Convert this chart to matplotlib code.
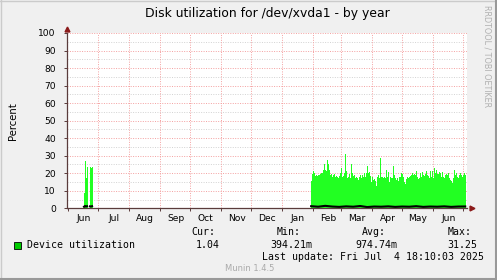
import datetime as dt
import numpy as np
import matplotlib
matplotlib.use('Agg')
from matplotlib import pyplot as plt
from matplotlib.patches import Rectangle
from matplotlib.lines import Line2D

# ---- data ----
start1 = dt.datetime(2024, 6, 17)
max1 = [8.5, 27.0, 17.5, 23.7, np.nan, np.nan, 23.3, 23.0, 23.3]
avg1 = [0.9, 1.3, 1.0, 1.2, np.nan, np.nan, 1.1, 1.0, 1.2]

start2 = dt.datetime(2025, 1, 30)
max2 = [15.5, 19.5, 21, 20, 18.5, 19, 18.5, 19, 19, 19.5, 20, 20, 22, 25.5, 22, 21,
        27.5, 25, 22, 19, 19.5, 18, 19, 19.5, 18, 18.5, 17.8, 17.3, 18.5, 20, 23, 18,
        18.5, 20, 31.25, 21, 17.3,
        18, 19.5, 17, 25.5, 20, 18.5, 19, 17, 18, 17.5, 16, 18, 19, 17, 19, 18,
        20, 18, 20, 24, 20, 20.5, 18.5, 15, 18, 16, 16.5, 15.5, 13, 18, 19, 17,
        28.5, 18, 18, 17, 18, 17, 22, 18,
        20.5, 15, 18, 17.5, 17, 24, 19, 17.5, 16, 17, 15.5, 18, 18, 20, 19.5, 18,
        15, 14, 16.5, 18, 17, 18, 18.5, 19, 20, 19, 19.5, 19, 21.5, 18, 16.5, 17.5,
        20, 18, 20.5, 19, 18.5, 19.5, 21, 19,
        18.5, 17, 21, 18, 21.5, 17.5, 23, 20, 22, 19.5, 19.5, 20.5, 20, 18, 20.5, 18,
        17.5, 19, 19.5, 19, 20, 17.5, 16, 15.5, 14.5, 17.5, 22, 19, 20, 18, 17, 19,
        20, 19, 18, 19, 20, 19]
avg2_week = [1.2, 0.9, 1.4, 1.0, 0.8, 1.1, 0.9, 1.3, 0.7, 1.0, 0.9, 1.1, 0.8, 1.0,
             0.9, 1.2, 0.8, 1.0, 0.9, 1.1, 0.8, 1.0, 1.04]

month_labels = ['Jun', 'Jul', 'Aug', 'Sep', 'Oct', 'Nov', 'Dec', 'Jan', 'Feb',
                'Mar', 'Apr', 'May', 'Jun']
month_starts = [dt.datetime(2024, 6, 1), dt.datetime(2024, 7, 1), dt.datetime(2024, 8, 1),
                dt.datetime(2024, 9, 1), dt.datetime(2024, 10, 1), dt.datetime(2024, 11, 1),
                dt.datetime(2024, 12, 1), dt.datetime(2025, 1, 1), dt.datetime(2025, 2, 1),
                dt.datetime(2025, 3, 1), dt.datetime(2025, 4, 1), dt.datetime(2025, 5, 1),
                dt.datetime(2025, 6, 1), dt.datetime(2025, 7, 1)]

x_start = dt.datetime(2024, 5, 31)
x_end = dt.datetime(2025, 7, 4, 18, 10)

W, H = 497, 280
fig = plt.figure(figsize=(W / 100, H / 100), dpi=100, facecolor='#f0f0f0')
ax = fig.add_axes([67 / W, 1 - 208.3 / H, 400 / W, 175.3 / H])
ax.set_facecolor('white')

d1 = [start1 + dt.timedelta(days=i) for i in range(len(max1))]
d2 = [start2 + dt.timedelta(days=i) for i in range(len(max2))]
dw = [start2 + dt.timedelta(days=7 * i) for i in range(len(avg2_week))]

# grid
for v in range(5, 100, 10):
    ax.axhline(v, color='#d2d2d2', lw=0.7, ls=(0, (1, 1.5)), zorder=1)
for v in range(10, 101, 10):
    ax.axhline(v, color='#f4a0a0', lw=0.7, ls=(0, (1, 1.5)), zorder=1)
for m in month_starts[1:]:
    ax.axvline(m, color='#f4a0a0', lw=0.7, ls=(0, (1, 1.5)), zorder=1)

green = '#22ff22'
ax.bar(d1, max1, width=1.0, align='edge', color=green, lw=0, zorder=2)
ax.bar(d2, max2, width=1.0, align='edge', color=green, lw=0, zorder=2)
ax.plot(d1, avg1, color='black', lw=1.5, zorder=3)
ax.plot(dw, avg2_week, color='black', lw=1.5, zorder=3)

ax.set_xlim(x_start, x_end)
ax.set_ylim(0, 100)

axis_col = '#5a3c3c'
for s in ['top', 'right']:
    ax.spines[s].set_visible(False)
for s in ['left', 'bottom']:
    ax.spines[s].set_color(axis_col)
    ax.spines[s].set_linewidth(0.9)
    ax.spines[s].set_zorder(4)

ax.set_yticks(range(0, 101, 10))
ax.tick_params(axis='y', length=2, width=0.7, color=axis_col, labelsize=6.6, pad=6)
ax.set_xticks(month_starts)
ax.set_xticklabels([])
ax.tick_params(axis='x', which='major', length=2, width=0.7, color=axis_col)
mids = [m + dt.timedelta(days=15, hours=14) for m in month_starts[:-1]]
ax.set_xticks(mids, minor=True)
ax.set_xticklabels(month_labels, minor=True)
ax.tick_params(axis='x', which='minor', length=0, labelsize=6.6, pad=4)

# arrows
ax.plot([x_start], [102.3], marker='^', ms=3.5, color='#8b1a1a', clip_on=False, zorder=5)
ax.plot([x_end + dt.timedelta(days=4.5)], [0], marker='>', ms=3.5, color='#8b1a1a',
        clip_on=False, zorder=5)

ax.set_ylabel('Percent', fontsize=7.3, labelpad=15)

fig.text(267 / W, 1 - 13.5 / H, 'Disk utilization for /dev/xvda1 - by year',
         ha='center', va='center', fontsize=8.9)
fig.text(487.5 / W, 1 - 5 / H, 'RRDTOOL / TOBI OETIKER', rotation=270,
         ha='center', va='top', fontsize=5.8, color='#b0b0b0')

# legend area (monospace)
mono = dict(family='DejaVu Sans Mono', fontsize=7.1, va='center', ha='left')
fig.patches.append(Rectangle((13.5 / W, 1 - 248.5 / H), 7 / W, 7 / H,
                             transform=fig.transFigure, facecolor='#00cc00',
                             edgecolor='black', lw=0.6))
fig.text(27 / W, 1 - 244.5 / H, 'Device utilization', **mono)
col_heads = ['Cur:', 'Min:', 'Avg:', 'Max:']
col_vals = ['1.04', '394.21m', '974.74m', '31.25']
head_x = [191, 276.7, 361.7, 447.7]
val_x = [196, 270.7, 355.3, 447.7]
for hx, hd, vx, vl in zip(head_x, col_heads, val_x, col_vals):
    fig.text(hx / W, 1 - 232.3 / H, hd, **mono)
    fig.text(vx / W, 1 - 244.5 / H, vl, **mono)
fig.text(261.7 / W, 1 - 256.7 / H, 'Last update: Fri Jul  4 18:10:03 2025', **mono)
fig.text(225 / W, 1 - 268.5 / H, 'Munin 1.4.5', ha='left', va='center',
         fontsize=6.0, color='#aaaaaa')

# 3d-ish frame
fig.lines.append(Line2D([0, 1], [1 - 0.5 / H] * 2, transform=fig.transFigure, color='#cbcbcb', lw=1))
fig.lines.append(Line2D([0.5 / W] * 2, [0, 1], transform=fig.transFigure, color='#cbcbcb', lw=1))
fig.lines.append(Line2D([0, 1], [1 / H] * 2, transform=fig.transFigure, color='#999999', lw=1.5))
fig.lines.append(Line2D([1 - 1 / W] * 2, [0, 1], transform=fig.transFigure, color='#999999', lw=1.5))

fig.savefig('out.png', dpi=100, facecolor=fig.get_facecolor())
